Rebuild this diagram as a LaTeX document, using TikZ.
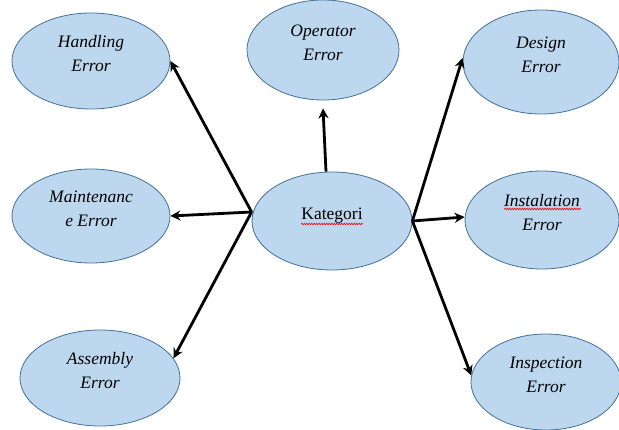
\documentclass[tikz,border=0pt]{standalone}
\usepackage{fontspec}
\setmainfont{Liberation Serif}
\usetikzlibrary{shapes.geometric,arrows.meta,decorations.pathmorphing}
\definecolor{ovalfill}{HTML}{BDD7EE}
\definecolor{ovalline}{HTML}{41719C}
\newcommand{\ovaltext}[1]{\raisebox{6pt}[\height][\depth]{\begin{tabular}{@{}c@{}}#1\end{tabular}}}

\tikzset{
  oval/.style={ellipse,draw=ovalline,fill=ovalfill,line width=0.8pt,inner sep=0pt,
    font=\fontsize{17.5}{23.5}\selectfont\itshape},
  link/.style={line width=2.8pt,-{Stealth[length=10pt,width=10pt]}},
  squiggle/.style={red,line width=0.6pt,decorate,
    decoration={snake,amplitude=0.8pt,segment length=2.5pt}}
}

\begin{document}
\begin{tikzpicture}[x=1pt,y=1pt]
  \useasboundingbox (0,0) rectangle (619,429);
  % left column
  \node[oval,minimum width=158pt,minimum height=96pt] (handling) at (91,368) {\ovaltext{Handling\\Error}};
  \node[oval,minimum width=158pt,minimum height=94pt] (maint) at (91,213) {\ovaltext{Maintenanc\\e Error}};
  \node[oval,minimum width=160pt,minimum height=96pt] (assembly) at (100,51) {\ovaltext{Assembly\\Error}};
  % middle column
  \node[oval,minimum width=152pt,minimum height=100pt] (operator) at (323,379) {\ovaltext{Operator\\Error}};
  \node[oval,minimum width=160pt,minimum height=98pt,font=\fontsize{17.5}{23.5}\selectfont] (kategori) at (332,208) {\ovaltext{Kategori}};
  % right column
  \node[oval,minimum width=156pt,minimum height=104pt] (design) at (541,367) {\ovaltext{Design\\Error}};
  \node[oval,minimum width=154pt,minimum height=98pt] (instal) at (542,209) {\ovaltext{Instalation\\Error}};
  \node[oval,minimum width=150pt,minimum height=96pt] (inspect) at (546,47) {\ovaltext{Inspection\\Error}};
  % spell check marks
  \draw[squiggle] ([xshift=-31pt,yshift=-3pt]kategori.center) -- ++(62,0);
  \draw[squiggle] ([xshift=-38pt,yshift=11pt]instal.center) -- ++(77,0);
  % hubs
  \coordinate (lhub) at ([yshift=9pt]kategori.west);
  \coordinate (rhub) at (kategori.east);
  % arrows
  \draw[link] (lhub) -- (handling.east);
  \draw[link] (lhub) -- (maint.east);
  \draw[link] (lhub) -- (assembly.15);
  \draw[link] ([xshift=-6pt]kategori.north) -- ([yshift=-8pt]operator.south);
  \draw[link] (rhub) -- ([yshift=4pt]design.west);
  \draw[link] (rhub) -- ([yshift=3pt]instal.west);
  \draw[link] (rhub) -- (inspect.175);
\end{tikzpicture}
\end{document}
